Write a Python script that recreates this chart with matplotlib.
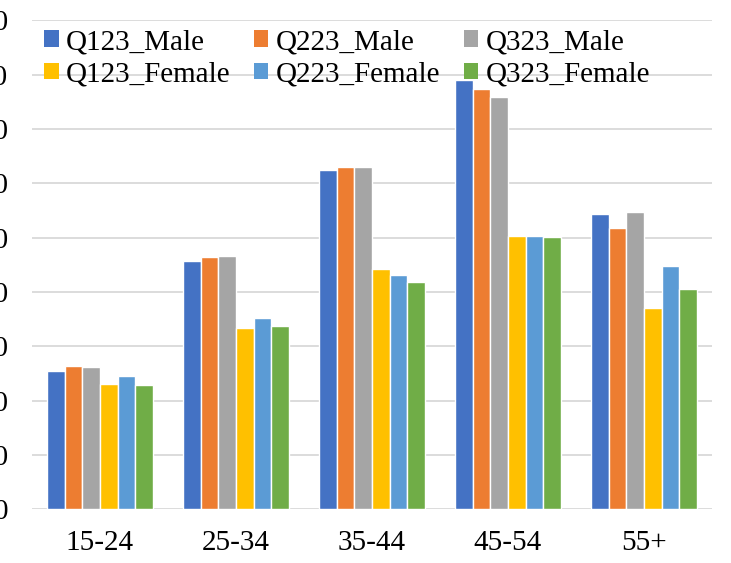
import numpy as np
import matplotlib
matplotlib.use("Agg")
import matplotlib.pyplot as plt
from matplotlib.patches import Patch

# ──────────────────────────────────────────────
# Data
# ──────────────────────────────────────────────
age_groups = ["15-24", "25-34", "35-44", "45-54", "55+"]

q123_male   = [25.5, 45.7, 62.5, 79.1, 54.4]
q223_male   = [26.4, 46.4, 63.0, 77.3, 51.7]
q323_male   = [26.1, 46.6, 63.0, 75.9, 54.7]
q123_female = [23.0, 33.4, 44.2, 50.3, 37.1]
q223_female = [24.5, 35.2, 43.2, 50.3, 44.7]
q323_female = [22.8, 33.7, 41.8, 50.1, 40.5]

series_names = ["Q123_Male", "Q223_Male", "Q323_Male",
                "Q123_Female", "Q223_Female", "Q323_Female"]
series_values = [q123_male, q223_male, q323_male,
                 q123_female, q223_female, q323_female]
colors = ["#4472C4", "#ED7D31", "#A5A5A5", "#FFC000", "#5B9BD5", "#70AD47"]

y_ticks = [0, 10, 20, 30, 40, 50, 60, 70, 80, 90]

# ──────────────────────────────────────────────
# Figure
# ──────────────────────────────────────────────
plt.rcParams["font.family"] = ["Liberation Serif", "DejaVu Serif"]
FS = 21

fig = plt.figure(figsize=(7.31, 5.63), dpi=100)
ax = fig.add_axes([32 / 731, 1 - 509.3 / 563, 680 / 731, 489 / 563])

x = np.arange(len(age_groups))
width = 0.13
for i, (name, vals, col) in enumerate(zip(series_names, series_values, colors)):
    ax.bar(x + (i - 2.5) * width, vals, width, color=col,
           edgecolor="white", linewidth=1.0, label=name, zorder=3)

ax.set_xlim(-0.5, len(age_groups) - 0.5)
ax.set_ylim(0, 90)
ax.set_yticks(y_ticks)
ax.set_yticklabels([str(t) for t in y_ticks])
ax.set_xticks(x)
ax.set_xticklabels(age_groups)

ax.grid(axis="y", color="#d9d9d9", linewidth=1.3, zorder=0)
for s in ax.spines.values():
    s.set_visible(False)
ax.tick_params(axis="y", length=0, pad=17, labelsize=FS)
ax.tick_params(axis="x", length=0, pad=15, labelsize=FS)

# Legend: 3 columns filled row by row, squares, no frame
order = [0, 3, 1, 4, 2, 5]
handles = [Patch(facecolor=colors[k], edgecolor="none") for k in order]
labels = [series_names[k] for k in order]
fig.legend(handles, labels, ncol=3, loc="upper left",
           bbox_to_anchor=(44 / 731, 1 - 29 / 563),
           frameon=False, fontsize=FS, borderpad=0, borderaxespad=0,
           handlelength=0.5, handleheight=0.5, handletextpad=0.25,
           columnspacing=0.8, labelspacing=0.22)

plt.savefig("out.png", dpi=100)
